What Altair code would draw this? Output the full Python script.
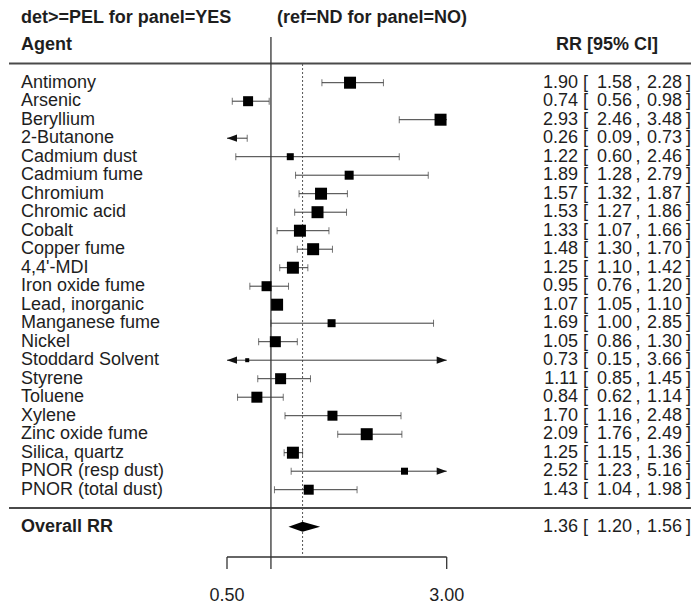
import altair as alt
import pandas as pd

# ---------------- data ----------------
agents = ["Antimony", "Arsenic", "Beryllium", "2-Butanone", "Cadmium dust",
          "Cadmium fume", "Chromium", "Chromic acid", "Cobalt", "Copper fume",
          "4,4'-MDI", "Iron oxide fume", "Lead, inorganic", "Manganese fume",
          "Nickel", "Stoddard Solvent", "Styrene", "Toluene", "Xylene",
          "Zinc oxide fume", "Silica, quartz", "PNOR (resp dust)", "PNOR (total dust)"]
rr = [1.90, 0.74, 2.93, 0.26, 1.22, 1.89, 1.57, 1.53, 1.33, 1.48, 1.25, 0.95,
      1.07, 1.69, 1.05, 0.73, 1.11, 0.84, 1.70, 2.09, 1.25, 2.52, 1.43]
ci_low = [1.58, 0.56, 2.46, 0.09, 0.60, 1.28, 1.32, 1.27, 1.07, 1.30, 1.10, 0.76,
          1.05, 1.00, 0.86, 0.15, 0.85, 0.62, 1.16, 1.76, 1.15, 1.23, 1.04]
ci_high = [2.28, 0.98, 3.48, 0.73, 2.46, 2.79, 1.87, 1.86, 1.66, 1.70, 1.42, 1.20,
           1.10, 2.85, 1.30, 3.66, 1.45, 1.14, 2.48, 2.49, 1.36, 5.16, 1.98]
# relative study weight (box size)
box_weight = [12, 10, 12, 4, 7, 9, 12, 12, 12, 12, 12, 10, 12, 8, 11, 4, 11, 11,
              10, 12, 12, 7, 10]

overall_label = "Overall RR"
overall_rr = 1.36
overall_low = 1.20
overall_high = 1.56

x_limits = [0.5, 3.0]
axis_ticks = [0.5, 3.0]
null_value = 1.0

title_left = "det>=PEL for panel=YES"
title_right = "(ref=ND for panel=NO)"
col_left = "Agent"
col_right = "RR [95% CI]"

# ---------------- tables ----------------
n = len(agents)
overall_row = n + 1
studies = pd.DataFrame({"agent": agents, "rr": rr, "lo": ci_low, "hi": ci_high,
                        "w": box_weight})
studies["row"] = range(n)
studies["lo_c"] = studies["lo"].clip(lower=x_limits[0])
studies["hi_c"] = studies["hi"].clip(upper=x_limits[1])

table = pd.concat([
    studies[["agent", "rr", "lo", "hi", "row"]],
    pd.DataFrame({"agent": [overall_label], "rr": [overall_rr], "lo": [overall_low],
                  "hi": [overall_high], "row": [overall_row]}),
], ignore_index=True)

HALF = 0.27
diamond = pd.DataFrame({
    "x": [overall_low, overall_rr, overall_high],
    "top": [overall_row, overall_row - HALF, overall_row],
    "bot": [overall_row, overall_row + HALF, overall_row],
})

FONT = "Liberation Sans"
FS = 18
TXT = "#1e1e1e"
LINE = "#4a4a4a"
W, H = 683, 599

x_scale = alt.Scale(domain=x_limits, range=[218, 437.7])
y_scale = alt.Scale(domain=[0, n - 1], range=[74.7, 481.7])


def X(f):
    return alt.X(f, type="quantitative", scale=x_scale, axis=None)


def X2(f):
    return alt.X2(f)


def Y(f):
    return alt.Y(f, type="quantitative", scale=y_scale, axis=None)


dummy = pd.DataFrame({"d": [0]})

# header texts
header = alt.layer(
    alt.Chart(dummy).mark_text(align="left", baseline="middle", font=FONT, fontSize=FS,
                               fontWeight="bold", color=TXT).encode(
        x=alt.value(12), y=alt.value(10), text=alt.value(title_left)),
    alt.Chart(dummy).mark_text(align="left", baseline="middle", font=FONT, fontSize=FS,
                               fontWeight="bold", color=TXT).encode(
        x=alt.value(268), y=alt.value(10), text=alt.value(title_right)),
    alt.Chart(dummy).mark_text(align="left", baseline="middle", font=FONT, fontSize=FS,
                               fontWeight="bold", color=TXT).encode(
        x=alt.value(12), y=alt.value(37), text=alt.value(col_left)),
    alt.Chart(dummy).mark_text(align="right", baseline="middle", font=FONT, fontSize=FS,
                               fontWeight="bold", color=TXT).encode(
        x=alt.value(649), y=alt.value(37), text=alt.value(col_right)),
)

hlines = alt.layer(
    alt.Chart(dummy).mark_rule(color=LINE, strokeWidth=2).encode(
        x=alt.value(0), x2=alt.value(W), y=alt.value(55.5)),
    alt.Chart(dummy).mark_rule(color=LINE, strokeWidth=2).encode(
        x=alt.value(0), x2=alt.value(W), y=alt.value(500)),
)

refs = pd.DataFrame({"v": [null_value]})
ref_solid = alt.Chart(refs).mark_rule(color="#333", strokeWidth=1.3).encode(
    x=X("v"), y=alt.value(29), y2=alt.value(561))
ovr = pd.DataFrame({"v": [overall_rr]})
ref_dot = alt.Chart(ovr).mark_rule(color="#555", strokeWidth=1, strokeDash=[2, 2]).encode(
    x=X("v"), y=alt.value(56), y2=alt.value(546))

# axis
ax = pd.DataFrame({"lo": [x_limits[0]], "hi": [x_limits[1]]})
axis_line = alt.Chart(ax).mark_rule(color="#333", strokeWidth=1.3).encode(
    x=X("lo"), x2=X2("hi"), y=alt.value(549))
ticks = pd.DataFrame({"t": axis_ticks})
axis_ticks_m = alt.Chart(ticks).mark_rule(color="#333", strokeWidth=1.3).encode(
    x=X("t"), y=alt.value(549), y2=alt.value(561))
axis_labels = alt.Chart(ticks).mark_text(font=FONT, fontSize=FS, color=TXT,
                                         baseline="middle").encode(
    x=X("t"), y=alt.value(588), text=alt.Text("t:Q", format=".2f"))

# CI lines
ci = alt.Chart(studies).mark_rule(color="#3a3a3a", strokeWidth=1).encode(
    x=X("lo_c"), x2=X2("hi_c"), y=Y("row"))
caps_lo = alt.Chart(studies[studies["lo"] >= x_limits[0]]).mark_tick(
    orient="vertical", size=7, thickness=1, color="#3a3a3a").encode(x=X("lo"), y=Y("row"))
caps_hi = alt.Chart(studies[studies["hi"] <= x_limits[1]]).mark_tick(
    orient="vertical", size=7, thickness=1, color="#3a3a3a").encode(x=X("hi"), y=Y("row"))

left_arrow = "M0,0L1,-0.36L1,0.36Z"
right_arrow = "M0,0L-1,-0.36L-1,0.36Z"
arr_l = alt.Chart(studies[studies["lo"] < x_limits[0]]).transform_calculate(
    ax=str(x_limits[0])).mark_point(shape=left_arrow, filled=True, size=400, opacity=1,
                                    color="#111").encode(x=X("ax:Q"), y=Y("row"))
arr_r = alt.Chart(studies[studies["hi"] > x_limits[1]]).transform_calculate(
    ax=str(x_limits[1])).mark_point(shape=right_arrow, filled=True, size=400, opacity=1,
                                    color="#111").encode(x=X("ax:Q"), y=Y("row"))

boxes = alt.Chart(studies[(studies["rr"] >= x_limits[0]) & (studies["rr"] <= x_limits[1])]
                  ).mark_square(filled=True, opacity=1, color="#000").encode(
    x=X("rr"), y=Y("row"),
    size=alt.Size("w:Q", scale=alt.Scale(type="pow", exponent=2, domain=[0, 12],
                                         range=[0, 144]), legend=None))

dia = alt.Chart(diamond).mark_area(orient="vertical", color="#000", opacity=1).encode(
    x=X("x"), y=Y("top"), y2=alt.Y2("bot"))

# left labels
labels = alt.Chart(table[table["row"] < n]).mark_text(
    align="left", baseline="middle", font=FONT, fontSize=FS, color=TXT).encode(
    x=alt.value(12), y=Y("row"), text="agent:N")
labels_ovr = alt.Chart(table[table["row"] == overall_row]).mark_text(
    align="left", baseline="middle", font=FONT, fontSize=FS, fontWeight="bold",
    color=TXT).encode(x=alt.value(12), y=Y("row"), text="agent:N")


def col(field, xpos, align):
    return alt.Chart(table).mark_text(align=align, baseline="middle", font=FONT,
                                      fontSize=FS, color=TXT).encode(
        x=alt.value(xpos), y=Y("row"), text=alt.Text(field + ":Q", format=".2f"))


def sym(s, xpos, align):
    return alt.Chart(table).mark_text(align=align, baseline="middle", font=FONT,
                                      fontSize=FS, color=TXT).encode(
        x=alt.value(xpos), y=Y("row"), text=alt.value(s))


right_cols = alt.layer(
    col("rr", 569, "right"),
    sym("[", 574, "left"),
    col("lo", 623, "right"),
    sym(",", 629, "center"),
    col("hi", 673, "right"),
    sym("]", 677, "left"),
)

chart = alt.layer(
    header, hlines, ref_dot, ref_solid, axis_line, axis_ticks_m, axis_labels,
    ci, caps_lo, caps_hi, arr_l, arr_r, boxes, dia, labels, labels_ovr, right_cols,
).properties(
    width=W, height=H,
    autosize=alt.AutoSizeParams(type="fit", contains="padding"),
    padding=0,
).configure_view(stroke=None)

chart.save("out.html", embed_options={"renderer": "svg", "actions": False})
